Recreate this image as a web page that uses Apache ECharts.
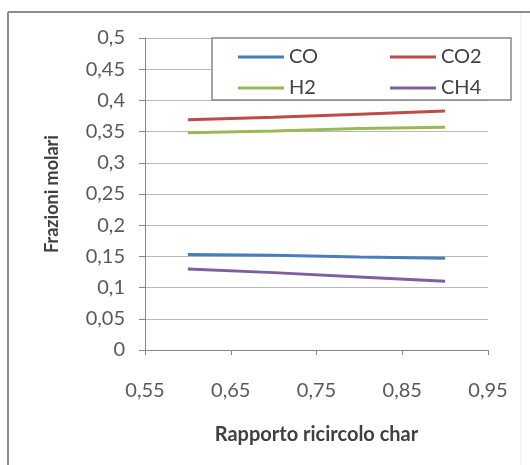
<!DOCTYPE html>
<html>
<head>
<meta charset="utf-8">
<script src="https://cdn.jsdelivr.net/npm/echarts@6/dist/echarts.min.js"></script>
<style>
html,body{margin:0;padding:0;background:#fff;}
#c{width:530px;height:465px;}
</style>
</head>
<body>
<div id="c"></div>
<script>
var xValues = [0.6, 0.7, 0.8, 0.9];
var seriesNames = ['CO', 'CO2', 'H2', 'CH4'];
var coValues  = [0.153, 0.152, 0.149, 0.147];
var co2Values = [0.369, 0.373, 0.378, 0.383];
var h2Values  = [0.348, 0.351, 0.355, 0.357];
var ch4Values = [0.130, 0.124, 0.117, 0.110];
var xTicks = [0.55, 0.65, 0.75, 0.85, 0.95];
var yTicks = [0, 0.05, 0.1, 0.15, 0.2, 0.25, 0.3, 0.35, 0.4, 0.45, 0.5];
var colors = ['#4a7ebb', '#be4b48', '#98b954', '#7d60a0'];
var xTitle = 'Rapporto ricircolo char';
var yTitle = 'Frazioni molari';

function pairs(vals){ return xValues.map(function(x,i){ return [x, vals[i]]; }); }
function fmt(v){ return String(+v.toFixed(2)).replace('.', ','); }

var font = 'Lato, "Open Sans", sans-serif';
var allVals = [coValues, co2Values, h2Values, ch4Values];

var chart = echarts.init(document.getElementById('c'), null, {renderer:'canvas'});
chart.setOption({
  backgroundColor: '#ffffff',
  animation: false,
  grid: {left: 145, right: 42, top: 38, bottom: 115, containLabel: false},
  xAxis: {
    type: 'value', min: 0.55, max: 0.95,
    name: xTitle, nameLocation: 'middle', nameGap: 75,
    nameTextStyle: {fontFamily: font, fontSize: 20, fontWeight: 'bold', color: '#404040'},
    axisLine: {show: true, onZero: false, lineStyle: {color: '#868686', width: 1}},
    axisTick: {show: true, customValues: xTicks, length: 5, lineStyle: {color: '#868686'}},
    axisLabel: {customValues: xTicks, formatter: fmt, margin: 31, fontFamily: font, fontSize: 20, color: '#595959'},
    splitLine: {show: false}
  },
  yAxis: {
    type: 'value', min: 0, max: 0.5,
    name: yTitle, nameLocation: 'middle', nameGap: 84, nameRotate: 90,
    nameTextStyle: {fontFamily: font, fontSize: 18, fontWeight: 'bold', color: '#404040'},
    axisLine: {show: true, lineStyle: {color: '#868686', width: 1}},
    axisTick: {show: true, customValues: yTicks, length: 6, lineStyle: {color: '#868686'}},
    axisLabel: {customValues: yTicks, formatter: fmt, margin: 20, fontFamily: font, fontSize: 20, color: '#595959'},
    splitLine: {show: true, customValues: yTicks, lineStyle: {color: '#b8b8b8', width: 1}}
  },
  legend: {
    data: seriesNames,
    left: 238, top: 47, width: 300,
    padding: 0,
    orient: 'horizontal',
    icon: 'rect', itemWidth: 46, itemHeight: 3,
    itemGap: 11,
    textStyle: {fontFamily: font, fontSize: 20, color: '#404040', width: 90, lineHeight: 20},
    z: 10
  },
  graphic: [
    {type: 'rect', z: 5, shape: {x: 212, y: 38, width: 299, height: 62}, style: {fill: '#ffffff', stroke: '#868686', lineWidth: 1.5}},
    {type: 'line', z: 5, shape: {x1: 8, y1: 12, x2: 530, y2: 12}, style: {stroke: '#8c8c8c', lineWidth: 2}},
    {type: 'line', z: 5, shape: {x1: 8, y1: 12, x2: 8, y2: 465}, style: {stroke: '#8c8c8c', lineWidth: 2}},
    {type: 'line', z: 5, shape: {x1: 521, y1: 13, x2: 521, y2: 465}, style: {stroke: '#ececec', lineWidth: 1}}
  ],
  series: seriesNames.map(function(n, i){
    return {
      name: n, type: 'line', data: pairs(allVals[i]),
      showSymbol: false, symbol: 'none',
      lineStyle: {color: colors[i], width: 3},
      itemStyle: {color: colors[i]},
      z: 3
    };
  })
});
</script>
</body>
</html>
